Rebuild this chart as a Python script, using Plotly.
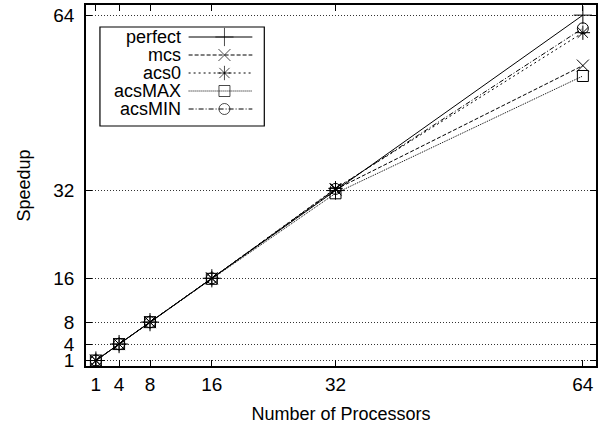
import plotly.graph_objects as go

procs = [1, 4, 8, 16, 32, 64]
series_names = ["perfect", "mcs", "acs0", "acsMAX", "acsMIN"]
perfect = [1, 4, 8, 16, 32, 64]
mcs = [1, 4, 8, 16, 32.2, 54.8]
acs0 = [1, 4, 8, 16, 32.4, 60.8]
acsMAX = [1, 4, 8, 15.9, 31.5, 52.9]
acsMIN = [1, 4, 8, 16, 32.3, 61.6]
tick_vals = [1, 4, 8, 16, 32, 64]

values = [perfect, mcs, acs0, acsMAX, acsMIN]
dashes = ["solid", "4px,2px", "2px,3px", "1px,1px", "5px,2px,1px,2px"]
symbols = ["cross-thin-open", "x-thin-open", "asterisk-open", "square-open", "circle-open"]
sizes = [13, 12, 12, 11, 11]

W, H = 599, 429
ML, MR, MT, MB = 86, 1, 5, 63
FONT = "Liberation Sans, Arial, Helvetica, sans-serif"

fig = go.Figure()
for name, ys, d, s, sz in zip(series_names, values, dashes, symbols, sizes):
    fig.add_trace(go.Scatter(
        x=procs, y=ys, name=name, mode="lines+markers",
        line=dict(color="black", width=1, dash=d),
        marker=dict(symbol=s, size=sz, color="black", line=dict(color="black", width=1)),
        showlegend=False,
    ))

# custom legend (gnuplot style: text left, sample right), pixel-space overlay axes
box_l, box_r, box_t, box_b = 100, 265, 27, 126
row0, row_step = 37, 18
text_x, samp_l, samp_m, samp_r = 182, 189, 225, 253
for i, (name, d, s, sz) in enumerate(zip(series_names, dashes, symbols, sizes)):
    ry = row0 + i * row_step
    fig.add_trace(go.Scatter(
        x=[samp_l, samp_m, samp_r], y=[ry, ry, ry], xaxis="x2", yaxis="y2",
        mode="lines+markers", showlegend=False, hoverinfo="skip",
        line=dict(color="black", width=1, dash=d),
        marker=dict(symbol=s, size=[0, sz, 0], color="black", line=dict(color="black", width=1)),
    ))
    fig.add_annotation(x=text_x, y=ry, xref="x2", yref="y2", text=name, showarrow=False,
                       xanchor="right", yanchor="middle", borderpad=0,
                       font=dict(family=FONT, size=18, color="black"))
fig.add_shape(type="rect", xref="x2", yref="y2", x0=box_l, x1=box_r, y0=box_t, y1=box_b,
              line=dict(color="black", width=1.2), fillcolor="rgba(0,0,0,0)")

fig.update_layout(
    width=W, height=H,
    margin=dict(l=ML, r=MR, t=MT, b=MB, pad=0),
    paper_bgcolor="white", plot_bgcolor="white",
    font=dict(family=FONT, color="black"),
    xaxis=dict(
        range=[-0.28, 65.7], tickvals=tick_vals, ticktext=[str(v) for v in tick_vals],
        ticks="inside", ticklen=6, tickcolor="black", tickwidth=1,
        showline=True, linecolor="black", linewidth=1.5, mirror="ticks",
        showgrid=False, zeroline=False, tickfont=dict(size=19, color="black"),
        ticklabelstandoff=0,
        title=dict(text="Number of Processors", font=dict(size=18, color="black"), standoff=14),
    ),
    yaxis=dict(
        range=[0, 65.85], tickvals=tick_vals, ticktext=[str(v) for v in tick_vals],
        ticks="inside", ticklen=6, tickcolor="black", tickwidth=1,
        showline=True, linecolor="black", linewidth=1.5, mirror="ticks",
        showgrid=True, gridcolor="#333", gridwidth=1, griddash="1px,2px",
        zeroline=False, tickfont=dict(size=19, color="black"), ticklabelstandoff=6,
        title=dict(text="Speedup", font=dict(size=18, color="black"), standoff=18),
    ),
    xaxis2=dict(range=[ML, W - MR], overlaying="x", visible=False, fixedrange=True),
    yaxis2=dict(range=[H - MB, MT], overlaying="y", visible=False, fixedrange=True),
)

fig.write_html("out.html")
